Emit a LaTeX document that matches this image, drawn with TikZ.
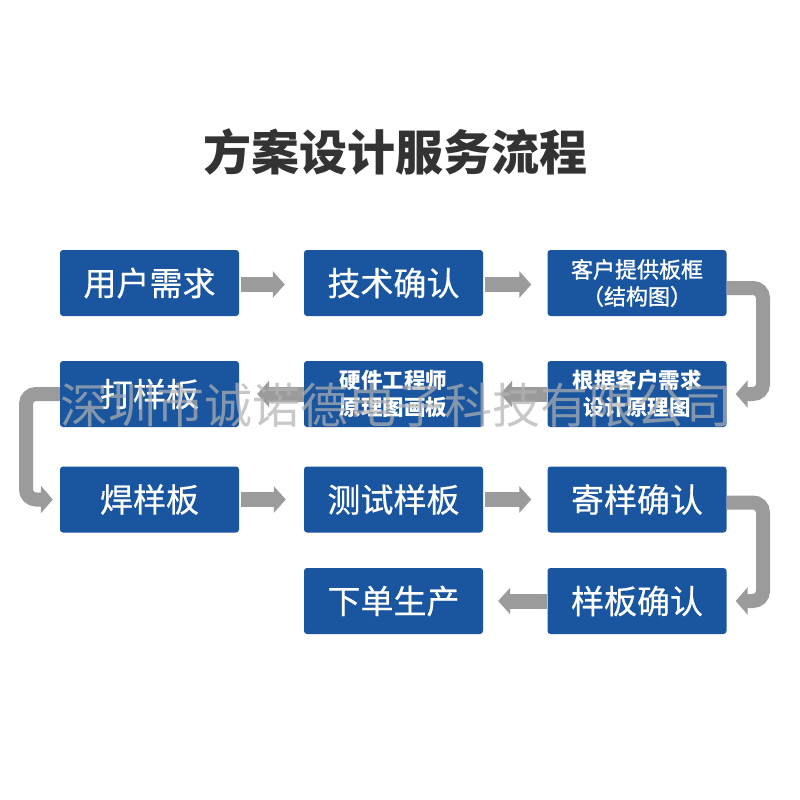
\documentclass[tikz,border=0pt]{standalone}
\usepackage{fontspec}
\newfontfamily\cjk{Noto Sans CJK SC}
\newfontfamily\cjkmed[FakeBold=0.5]{Noto Sans CJK SC}
\newfontfamily\cjksemi[FakeBold=1.2]{Noto Sans CJK SC}
\usetikzlibrary{arrows.meta}
\definecolor{boxblue}{HTML}{1A55A0}
\definecolor{arrgray}{HTML}{9B9B9B}
\definecolor{titlegray}{HTML}{333333}
\tikzset{
  box/.style={fill=boxblue, rounded corners=3pt, minimum width=179pt, minimum height=66pt,
    inner sep=0pt, text=white, align=center, font=\cjkmed\fontsize{33}{36}\selectfont},
  smallbox/.style={box, font=\cjksemi\fontsize{22}{27}\selectfont},
  boldbox/.style={box, font=\cjk\bfseries\fontsize{21.5}{27}\selectfont},
  arr/.style={draw=arrgray, line width=15pt, -{Triangle[length=12pt,width=26pt]}},
  elbow/.style={draw=arrgray, line width=14pt, rounded corners=10pt, -{Triangle[length=12pt,width=27pt]}}
}
\begin{document}
\begin{tikzpicture}[x=1pt,y=-1pt]
\useasboundingbox (0,0) rectangle (800,800);
\fill[white] (0,0) rectangle (800,800);
\node[font=\cjk\bfseries\fontsize{48}{52}\selectfont, text=titlegray] (title) at (395,152) {方案设计服务流程};
% row 1
\node[box] (a1) at (149.5,283) {用户需求};
\node[box] (a2) at (393.5,283) {技术确认};
\node[smallbox] (a3) at (637,283) {客户提供板框\\（结构图）};
% row 2
\node[box] (b1) at (149.5,394) {打样板};
\node[boldbox] (b2) at (393.5,394) {硬件工程师\\原理图画板};
\node[boldbox] (b3) at (637,394) {根据客户需求\\设计原理图};
% row 3
\node[box] (c1) at (149.5,499.5) {焊样板};
\node[box] (c2) at (393.5,499.5) {测试样板};
\node[box] (c3) at (637,499.5) {寄样确认};
% row 4
\node[box] (d2) at (393.5,601) {下单生产};
\node[box] (d3) at (637,601) {样板确认};
% arrows
\draw[arr, shorten <=2pt, shorten >=19pt] ([yshift=-1.5pt]a1.east) -- ([yshift=-1.5pt]a2.west);
\draw[arr, shorten <=2pt, shorten >=16pt] ([yshift=-1.5pt]a2.east) -- ([yshift=-1.5pt]a3.west);
\draw[elbow, shorten >=9pt] ([yshift=-5pt]a3.east) -| (763,394) -- (b3.east);
\draw[arr, shorten >=17pt] (b3.west) -- (b2.east);
\draw[arr, shorten >=18pt] (b2.west) -- (b1.east);
\draw[elbow, shorten >=7pt] (b1.west) -| (26,499.5) -- (c1.west);
\draw[arr, shorten <=2pt, shorten >=18pt] (c1.east) -- (c2.west);
\draw[arr, shorten <=2pt, shorten >=16pt] (c2.east) -- (c3.west);
\draw[elbow, shorten >=9pt] ([yshift=-3pt]c3.east) -| (763,601) -- (d3.east);
\draw[arr, shorten >=15pt] (d3.west) -- (d2.east);
% watermark
\node[font=\cjk\fontsize{48}{52}\selectfont, text=white!70!black, opacity=0.7] (wm) at (396,405) {深圳市诚诺德电子科技有限公司};
\end{tikzpicture}
\end{document}
